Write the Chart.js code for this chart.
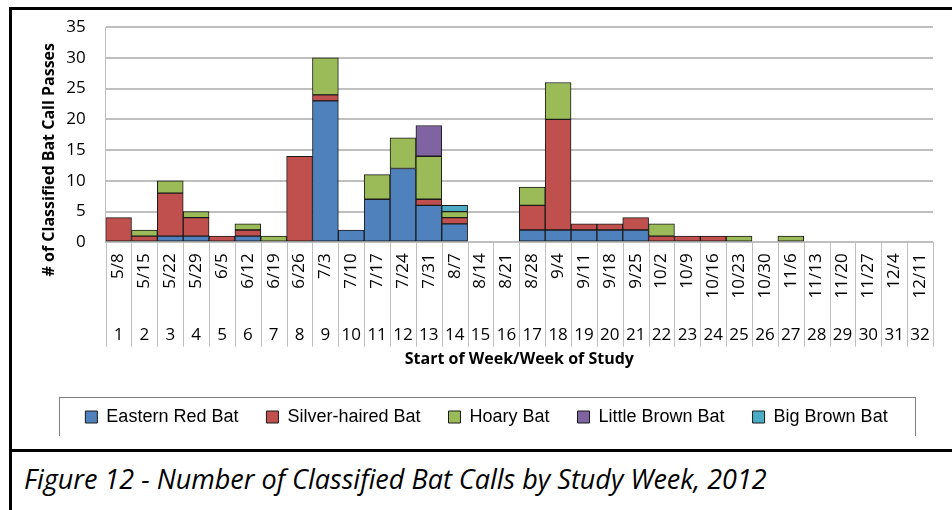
<!DOCTYPE html>
<html>
<head>
<meta charset="utf-8">
<script src="https://cdn.jsdelivr.net/npm/chart.js@4"></script>
<style>
  body { margin: 0; background: #fff; width: 952px; height: 510px; position: relative; overflow: hidden; }
  #wrap { position: absolute; left: 12px; top: 10px; width: 940px; height: 426px; }
  #frame { position: absolute; left: 9px; top: 7px; width: 950px; height: 439px; border-top: 3px solid #000; border-left: 3px solid #000; border-bottom: 3px solid #000; pointer-events: none; }
  #caption { position: absolute; left: 9px; top: 449px; width: 950px; height: 61px; border-left: 3px solid #000; background: #fff; }
  #caption span { position: absolute; left: 12px; top: 11px; font-family: "Liberation Sans Narrow", "Open Sans", sans-serif; font-style: italic; font-size: 27px; color: #000; white-space: nowrap; }
</style>
</head>
<body>
<div id="wrap"><canvas id="batChart"></canvas></div>
<div id="caption"><span>Figure 12 - Number of Classified Bat Calls by Study Week, 2012</span></div>
<div id="frame"></div>
<script>
const weekDates = ['5/8','5/15','5/22','5/29','6/5','6/12','6/19','6/26','7/3','7/10','7/17','7/24','7/31','8/7','8/14','8/21',
  '8/28','9/4','9/11','9/18','9/25','10/2','10/9','10/16','10/23','10/30','11/6','11/13','11/20','11/27','12/4','12/11'];
const weekNumbers = ['1','2','3','4','5','6','7','8','9','10','11','12','13','14','15','16',
  '17','18','19','20','21','22','23','24','25','26','27','28','29','30','31','32'];

const easternRed   = [0,0,1,1,0,1,0,0,23,2,7,12,6,3,0,0,2,2,2,2,2,0,0,0,0,0,0,0,0,0,0,0];
const silverHaired = [4,1,7,3,1,1,0,14,1,0,0,0,1,1,0,0,4,18,1,1,2,1,1,1,0,0,0,0,0,0,0,0];
const hoary        = [0,1,2,1,0,1,1,0,6,0,4,5,7,1,0,0,3,6,0,0,0,2,0,0,1,0,1,0,0,0,0,0];
const littleBrown  = [0,0,0,0,0,0,0,0,0,0,0,0,5,0,0,0,0,0,0,0,0,0,0,0,0,0,0,0,0,0,0,0];
const bigBrown     = [0,0,0,0,0,0,0,0,0,0,0,0,0,1,0,0,0,0,0,0,0,0,0,0,0,0,0,0,0,0,0,0];

const yTicks = [0, 35, 5]; // min, max, step

const gridGray = '#bfbfbf';
const sans = '"Open Sans", sans-serif';

function series(label, data, color) {
  return {
    label: label,
    data: data.map(v => v === 0 ? null : v),
    backgroundColor: color,
    borderColor: '#1a1a1a',
    borderWidth: 1,
    borderSkipped: false,
    barPercentage: 1,
    categoryPercentage: 1,
    xAxisID: 'x'
  };
}

// vertical separators between categories, running through both label rows
const dividers = {
  id: 'dividers',
  afterDraw(chart) {
    const xs = chart.scales.x, wk = chart.scales.x2;
    const n = weekDates.length;
    const half = (xs.getPixelForValue(1) - xs.getPixelForValue(0)) / 2;
    const o = wk.options;
    const bottom = wk.top + o.grid.tickLength + 2 * o.ticks.padding + o.ticks.font.size * 1.2 - 1;
    const ctx = chart.ctx;
    ctx.save();
    ctx.strokeStyle = gridGray;
    ctx.lineWidth = 1;
    ctx.beginPath();
    for (let i = 0; i <= n; i++) {
      const px = Math.round(xs.getPixelForValue(i) - half) + 0.5;
      ctx.moveTo(px, xs.top);
      ctx.lineTo(px, bottom);
    }
    ctx.stroke();
    ctx.restore();
  }
};

// frame around the legend items
const legendBox = {
  id: 'legendBox',
  afterDraw(chart) {
    const boxes = chart.legend.legendHitBoxes;
    if (!boxes || !boxes.length) return;
    const l = Math.min(...boxes.map(b => b.left)) - 26;
    const r = Math.max(...boxes.map(b => b.left + b.width)) + 28;
    const t = Math.min(...boxes.map(b => b.top)) - 11;
    const b = Math.max(...boxes.map(b => b.top + b.height)) + 11;
    const ctx = chart.ctx;
    ctx.save();
    ctx.strokeStyle = '#7f7f7f';
    ctx.lineWidth = 1;
    ctx.strokeRect(Math.round(l) + 0.5, Math.round(t) + 0.5, Math.round(r - l), Math.round(b - t));
    ctx.restore();
  }
};

new Chart(document.getElementById('batChart'), {
  type: 'bar',
  data: {
    labels: weekDates,
    datasets: [
      series('Eastern Red Bat', easternRed, '#4F81BD'),
      series('Silver-haired Bat', silverHaired, '#C0504D'),
      series('Hoary Bat', hoary, '#9BBB59'),
      series('Little Brown Bat', littleBrown, '#8064A2'),
      series('Big Brown Bat', bigBrown, '#4BACC6')
    ]
  },
  options: {
    responsive: true,
    maintainAspectRatio: false,
    animation: false,
    layout: { padding: { left: 28, right: 19, top: 7, bottom: 0 } },
    plugins: {
      tooltip: { enabled: false },
      legend: {
        position: 'bottom',
        labels: {
          boxWidth: 12,
          boxHeight: 12,
          padding: 28,
          color: '#000',
          font: { family: '"Liberation Sans Narrow", sans-serif', size: 18 }
        }
      }
    },
    scales: {
      x: {
        stacked: true,
        position: 'bottom',
        border: { color: gridGray },
        grid: { offset: true, drawOnChartArea: false, tickLength: 9, color: 'rgba(0,0,0,0)' },
        ticks: { autoSkip: false, minRotation: 90, maxRotation: 90, padding: 2, color: '#000', font: { family: sans, size: 17 } }
      },
      x2: {
        type: 'category',
        labels: weekNumbers,
        position: 'bottom',
        border: { display: false },
        grid: { offset: true, drawOnChartArea: false, tickLength: 23, color: 'rgba(0,0,0,0)' },
        ticks: { autoSkip: false, maxRotation: 0, padding: 2, color: '#000', font: { family: sans, size: 17 } },
        title: {
          display: true,
          text: 'Start of Week/Week of Study',
          color: '#000',
          padding: { top: 2, bottom: 11 },
          font: { family: sans, size: 16, weight: 'bold' }
        }
      },
      y: {
        stacked: true,
        min: yTicks[0],
        max: yTicks[1],
        border: { color: gridGray },
        grid: { color: gridGray, lineWidth: 2, drawTicks: true, tickLength: 13, tickColor: 'rgba(0,0,0,0)' },
        ticks: { stepSize: yTicks[2], padding: 7, color: '#000', font: { family: sans, size: 17 } },
        title: {
          display: true,
          text: '# of Classified Bat Call Passes' + '\u00a0'.repeat(12),
          color: '#000',
          padding: { top: 0, bottom: 0 },
          font: { family: sans, size: 16, weight: 'bold' }
        }
      }
    }
  },
  plugins: [dividers, legendBox]
});
</script>
</body>
</html>
